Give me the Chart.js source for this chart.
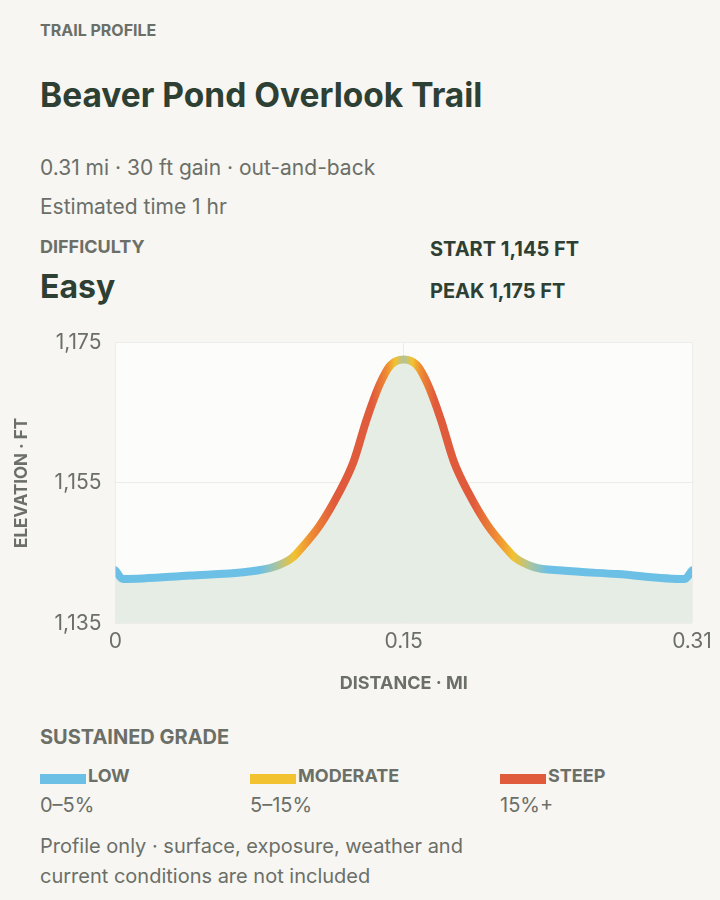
<!DOCTYPE html>
<html><head><meta charset="utf-8">
<script src="https://cdn.jsdelivr.net/npm/chart.js@4"></script>
<style>
body{margin:0;background:#f7f6f2;font-family:Inter,"Noto Sans",sans-serif;color:#6b6f68;width:720px;height:900px;position:relative;overflow:hidden}
.a{position:absolute;white-space:nowrap}
.k{font-weight:700;font-size:17px;color:#6b6f68}
.d{font-weight:700;color:#2e3f33}
#wrap{position:absolute;left:0;top:316px;width:720px;height:382px}
.sw{position:absolute;width:46px;height:10px}
</style></head><body>
<div class="a k" style="left:40px;top:20px;font-size:16px">TRAIL PROFILE</div>
<div class="a d" style="left:40px;top:75px;font-size:33.5px">Beaver Pond Overlook Trail</div>
<div class="a" style="left:40px;top:155px;font-size:21px">0.31 mi · 30 ft gain · out-and-back</div>
<div class="a" style="left:40px;top:194px;font-size:21px">Estimated time 1 hr</div>
<div class="a k" style="left:40px;top:236px;font-size:18px">DIFFICULTY</div>
<div class="a d" style="left:40px;top:267px;font-size:32px">Easy</div>
<div class="a d" style="left:430px;top:237px;font-size:20px">START 1,145 FT</div>
<div class="a d" style="left:430px;top:279px;font-size:20px">PEAK 1,175 FT</div>
<div id="wrap"><canvas id="c"></canvas></div>
<div class="a k" style="left:40px;top:725px;font-size:20px">SUSTAINED GRADE</div>
<div class="sw" style="left:40px;top:774px;background:#6cc0e6"></div>
<div class="a k" style="left:88px;top:765px;font-size:18px">LOW</div>
<div class="a" style="left:40px;top:793px;font-size:20px">0–5%</div>
<div class="sw" style="left:250px;top:774px;background:#f2c230"></div>
<div class="a k" style="left:298px;top:765px;font-size:18px">MODERATE</div>
<div class="a" style="left:250px;top:793px;font-size:20px">5–15%</div>
<div class="sw" style="left:500px;top:774px;background:#e05a3c"></div>
<div class="a k" style="left:548px;top:765px;font-size:18px">STEEP</div>
<div class="a" style="left:500px;top:793px;font-size:20px">15%+</div>
<div class="a" style="left:40px;top:831px;font-size:20px;line-height:30px">Profile only · surface, exposure, weather and<br>current conditions are not included</div>
<script>
const distances=[0,0.004,0.04,0.07,0.085,0.095,0.1,0.11,0.12,0.128,0.135,0.142,0.148,0.155,0.162,0.168,0.175,0.182,0.19,0.2,0.21,0.215,0.225,0.24,0.27,0.306,0.31];
const elevations=[1142.5,1141.3,1141.8,1142.3,1143,1144.3,1145.7,1149,1153.5,1158,1164,1169,1171.8,1172.6,1171.8,1169,1164,1158,1153.5,1149,1145.7,1144.3,1143,1142.5,1142,1141.3,1142.5];
const yTicks=[1135,1155,1175];
const xTicks=[0,0.155,0.31];
const pts=distances.map((d,i)=>({x:d,y:elevations[i]}));
function grad(ctx){
 const ca=ctx.chart.chartArea; if(!ca) return '#6cc0e6';
 const g=ctx.chart.ctx.createLinearGradient(ca.left,0,ca.right,0);
 const s=[[0,'#6cc0e6'],[0.25,'#6cc0e6'],[0.28,'#a8c4a0'],[0.31,'#f2c230'],[0.34,'#ee8a34'],[0.38,'#e05a3c'],[0.445,'#e05a3c'],[0.47,'#ee8a34'],[0.485,'#f2c230'],[0.5,'#b0c49a']];
 s.forEach(([p,c])=>g.addColorStop(p,c));
 s.slice().reverse().forEach(([p,c])=>{if(p<0.5)g.addColorStop(1-p,c)});
 return g;
}
const bg={id:'bg',beforeDraw(c){const{ctx,chartArea:a}=c;ctx.save();ctx.fillStyle='#fcfcfa';ctx.fillRect(a.left,a.top,a.right-a.left,a.bottom-a.top);ctx.restore();}};
new Chart(document.getElementById('c'),{type:'line',
 data:{datasets:[{data:pts,borderColor:grad,borderWidth:8,fill:true,backgroundColor:'#e5ede4',pointRadius:0,tension:0.4,cubicInterpolationMode:'monotone',borderCapStyle:'round',borderJoinStyle:'round'}]},
 plugins:[bg],
 options:{responsive:true,maintainAspectRatio:false,animation:false,
  layout:{padding:{left:8,right:28,top:18}},
  plugins:{legend:{display:false},tooltip:{enabled:false}},
  scales:{
   x:{type:'linear',min:0,max:0.31,afterBuildTicks:s=>{s.ticks=xTicks.map(v=>({value:v}))},
     ticks:{color:'#6b6f68',font:{family:'Inter',size:21},callback:v=>v===0?'0':v.toFixed(2),maxRotation:0,padding:6},
     grid:{color:'#ececea',drawTicks:false},border:{display:false},
     title:{display:true,text:'DISTANCE · MI',color:'#6b6f68',font:{family:'Inter',size:18,weight:'bold'},padding:{top:12}}},
   y:{min:1135,max:1175,afterBuildTicks:s=>{s.ticks=yTicks.map(v=>({value:v}))},
     ticks:{color:'#6b6f68',font:{family:'Inter',size:21},callback:v=>v.toLocaleString('en-US'),padding:14},
     grid:{color:'#ececea',drawTicks:false},border:{display:false},
     title:{display:true,text:'ELEVATION · FT',color:'#6b6f68',font:{family:'Inter',size:17,weight:'bold'},padding:{bottom:8}}}
  }}});
</script></body></html>
